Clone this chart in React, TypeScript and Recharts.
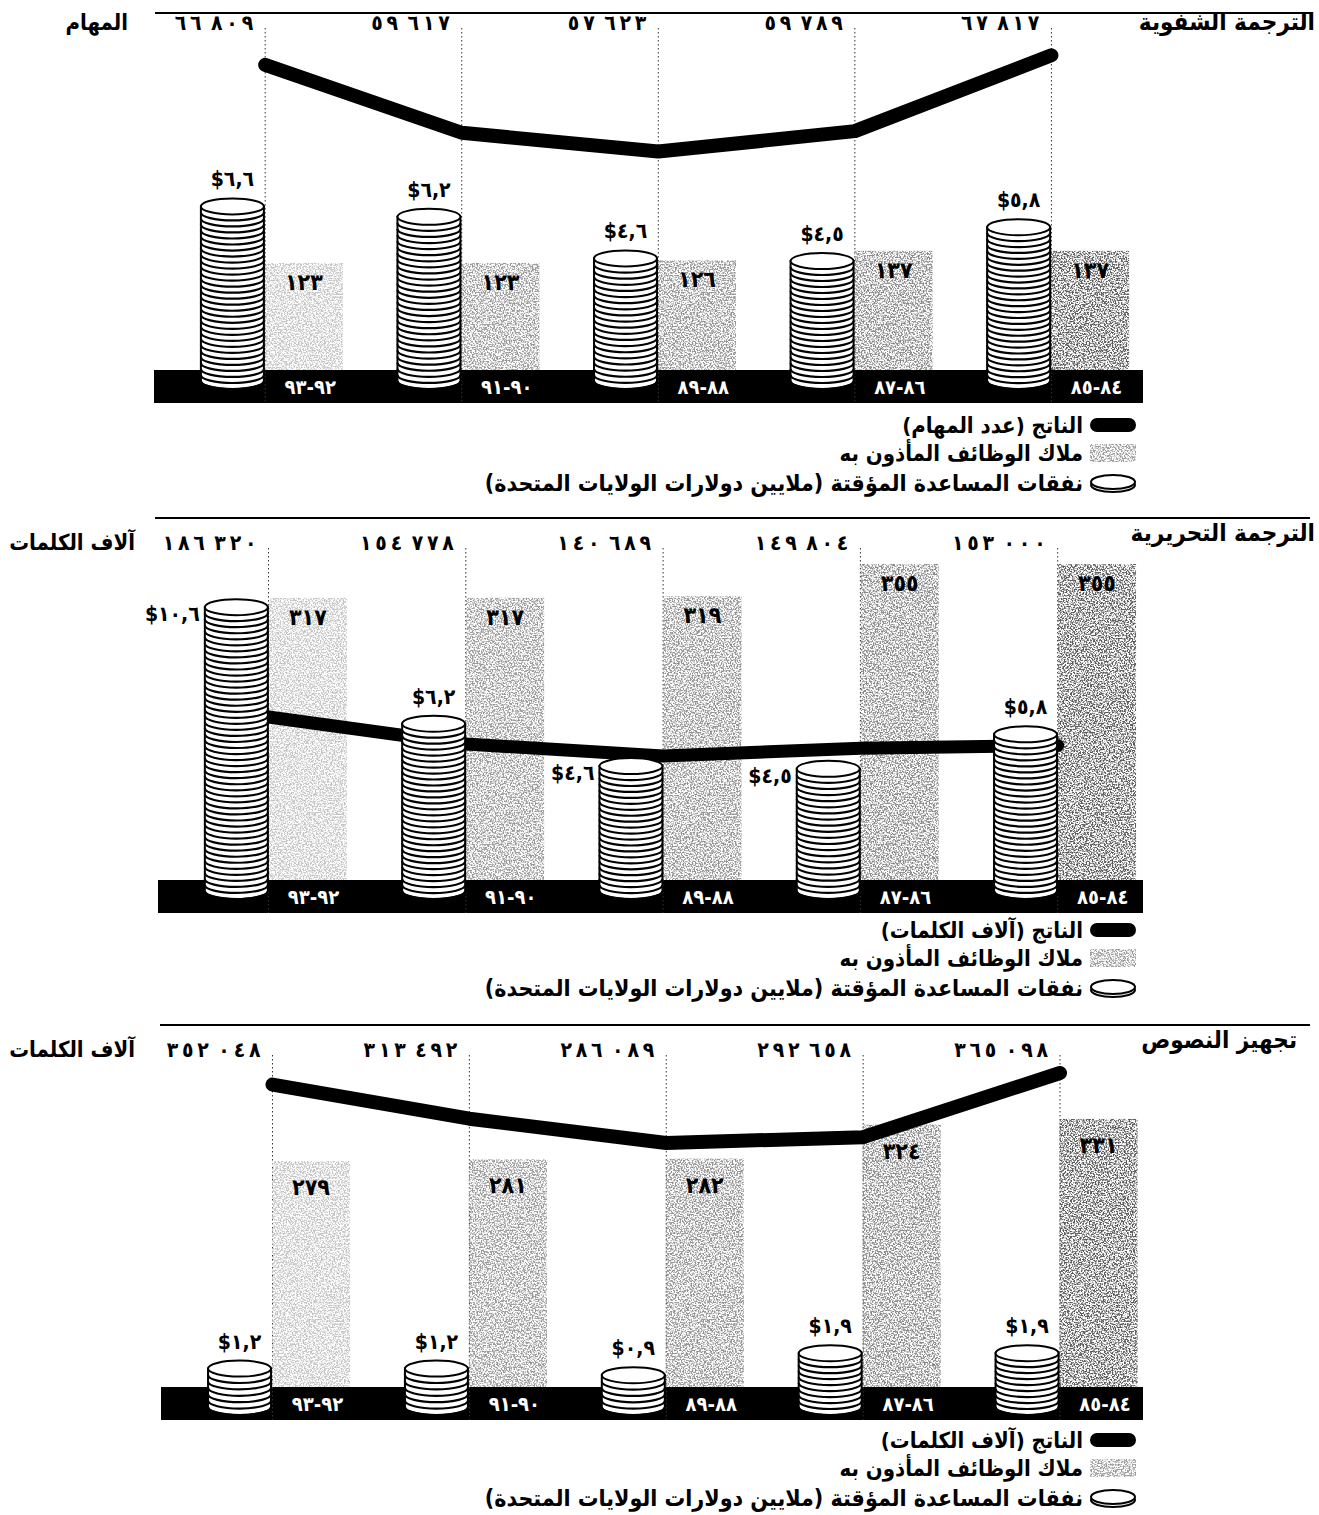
import React from 'react';
import {
  ComposedChart, Bar, Line, XAxis, YAxis, CartesianGrid, LabelList, Cell,
} from 'recharts';

const FONT = "'DejaVu Sans Condensed', 'DejaVu Sans', sans-serif";

// fiscal periods, oldest on the right
const periods = ['٩٢-٩٣', '٩٠-٩١', '٨٨-٨٩', '٨٦-٨٧', '٨٤-٨٥'];

// interpretation: output in meetings
const oralOutput = [66809, 59617, 57623, 59789, 67817];
const oralStaff = [123, 123, 126, 137, 137];
const oralCost = [6.6, 6.2, 4.6, 4.5, 5.8];

// translation: output in thousands of words
const writtenOutput = [186320, 154778, 140689, 149804, 153000];
const writtenStaff = [317, 317, 319, 355, 355];
const writtenCost = [10.6, 6.2, 4.6, 4.5, 5.8];

// text processing: output in thousands of words
const textOutput = [352048, 313492, 286089, 292658, 365098];
const textStaff = [279, 281, 282, 324, 331];
const textCost = [1.2, 1.2, 0.9, 1.9, 1.9];

const legendStaff = 'ملاك الوظائف المأذون به';
const legendCost = 'نفقات المساعدة المؤقتة (ملايين دولارات الولايات المتحدة)';

// staffing bars get darker towards the older periods
const staffShades = ['#c4c4c4', '#9a9a9a', '#949494', '#8a8a8a', '#5c5c5c'];

type Side = 'top' | 'left';

interface PanelCfg {
  key: string;
  title: string;
  unit: string;
  outputLegend: string;
  output: number[];
  staff: number[];
  cost: number[];
  costLabelSide: Side[];
  top: number;
  plotBottom: number;
  plotLeft: number;
  padL: number;
  padR: number;
  outDomain: [number, number];
  staffDomain: [number, number];
  costDomain: [number, number];
  staffLabelDy: number;
  coinExt: number;
  lineWidth: number;
  ruleY: number;
  ruleLeft: number;
  titleY: number;
  titleRight: number;
  unitRight: number;
  legendY: number;
}

const PLOT_RIGHT = 1143;
const TOP_AXIS = 28;
const BOTTOM_AXIS = 20;
const BAND_H = 33;
const HALF = 39;
const COIN_W = 63;

const panels: PanelCfg[] = [
  {
    key: 'oral', title: 'الترجمة الشفوية', unit: 'المهام', outputLegend: 'الناتج (عدد المهام)',
    output: oralOutput, staff: oralStaff, cost: oralCost,
    costLabelSide: ['top', 'top', 'top', 'top', 'top'],
    top: 0, plotBottom: 403, plotLeft: 154, padL: 12.9, padR: -6.7,
    outDomain: [31000, 70710], staffDomain: [-37.9, 393.1], costDomain: [-1.269, 13.154],
    staffLabelDy: 19, coinExt: 19, lineWidth: 14,
    ruleY: 13, ruleLeft: 155, titleY: 22, titleRight: 1315, unitRight: 128, legendY: 425,
  },
  {
    key: 'written', title: 'الترجمة التحريرية', unit: 'آلاف الكلمات', outputLegend: 'الناتج (آلاف الكلمات)',
    output: writtenOutput, staff: writtenStaff, cost: writtenCost,
    costLabelSide: ['left', 'top', 'left', 'left', 'top'],
    top: 520, plotBottom: 393, plotLeft: 158, padL: 11.85, padR: -13.35,
    outDomain: [-42940, 383960], staffDomain: [-37.08, 373.0], costDomain: [-1.245, 12.53],
    staffLabelDy: 19, coinExt: 19, lineWidth: 13,
    ruleY: 518, ruleLeft: 155, titleY: 533, titleRight: 1315, unitRight: 135, legendY: 930,
  },
  {
    key: 'text', title: 'تجهيز النصوص', unit: 'آلاف الكلمات', outputLegend: 'الناتج (آلاف الكلمات)',
    output: textOutput, staff: textStaff, cost: textCost,
    costLabelSide: ['top', 'top', 'top', 'top', 'top'],
    top: 1027, plotBottom: 393, plotLeft: 161, padL: 13.05, padR: -15.45,
    outDomain: [-26550, 385410], staffDomain: [-40.74, 409.9], costDomain: [-1.5, 15.09],
    staffLabelDy: 26, coinExt: 28, lineWidth: 14,
    ruleY: 1025, ruleLeft: 160, titleY: 1040, titleRight: 1297, unitRight: 135, legendY: 1440,
  },
];

const toArabic = (s: string) => s.replace(/[0-9]/g, (d) => '٠١٢٣٤٥٦٧٨٩'[Number(d)]);
// left-to-right override keeps the two digit groups in reading order,
// so the figures can be spaced out freely
const spread = (s: string) => s.split('').join('\u2009');
const fmtOutput = (v: number) => {
  const s = String(v);
  return `\u202D${toArabic(`${spread(s.slice(0, -3))}\u2002${spread(s.slice(-3))}`)}\u202C`;
};
const fmtCost = (v: number) => `$${toArabic(v.toFixed(1).replace('.', ','))}`;
const rtl = (s: string) => `\u200F${s}\u200F`;

const boxOf = (p: any) => p.viewBox ?? p;

function StaffBar(props: any) {
  const { x, y, width, height, fill } = props;
  if (x == null || !height || height <= 0) return null;
  return <rect x={x} y={y} width={width} height={height} fill={fill} filter="url(#grain)" />;
}

function CoinStack(props: any) {
  const { x, y, width, height, ext } = props;
  if (x == null || height == null || height <= 0) return null;
  const rx = COIN_W / 2;
  const ry = 8;
  const right = x + width - 1;
  const left = right - COIN_W;
  const top = y + ry;
  const bottom = y + height + ext - ry;
  const n = Math.max(1, Math.round((bottom - top) / 6));
  const step = (bottom - top) / n;
  const rings: number[] = [];
  for (let k = 1; k <= n; k++) rings.push(top + k * step);
  const body = `M${left},${top} L${left},${bottom} A${rx},${ry} 0 0 0 ${right},${bottom} L${right},${top} Z`;
  return (
    <g>
      <path d={body} fill="#fff" stroke="#000" strokeWidth={2} />
      {rings.map((yy) => (
        <path key={yy} d={`M${left},${yy} A${rx},${ry} 0 0 0 ${right},${yy}`} fill="none" stroke="#000" strokeWidth={2.2} />
      ))}
      <ellipse cx={left + rx} cy={top} rx={rx} ry={ry} fill="#fff" stroke="#000" strokeWidth={2} />
    </g>
  );
}

function makeStaffLabel(dy: number) {
  return function StaffLabel(props: any) {
    const { x, y, width } = boxOf(props);
    if (x == null) return null;
    return (
      <text x={x + width / 2} y={y + dy} textAnchor="middle" dominantBaseline="central"
        fontFamily={FONT} fontWeight="bold" fontSize={23} fill="#000">
        {toArabic(String(props.value))}
      </text>
    );
  };
}

function makeCostLabel(sides: Side[]) {
  return function CostLabel(props: any) {
    const { x, y, width } = boxOf(props);
    if (x == null) return null;
    const right = x + width - 1;
    const left = right - COIN_W;
    const side = sides[props.index] ?? 'top';
    const common = {
      fontFamily: FONT, fontWeight: 'bold' as const, fontSize: 21,
      fill: '#000', dominantBaseline: 'central' as const,
    };
    if (side === 'left') {
      return <text x={left - 5} y={y + 15} textAnchor="end" {...common}>{fmtCost(props.value)}</text>;
    }
    return <text x={left + COIN_W / 2} y={y - 19} textAnchor="middle" {...common}>{fmtCost(props.value)}</text>;
  };
}

function Panel({ cfg }: { cfg: PanelCfg }) {
  const data = periods.map((period, i) => ({
    period, output: cfg.output[i], staff: cfg.staff[i], cost: cfg.cost[i],
  }));
  const bandY = cfg.plotBottom - BAND_H / 2;
  const CostLabel = makeCostLabel(cfg.costLabelSide);
  const StaffLabel = makeStaffLabel(cfg.staffLabelDy);

  const PeriodTick = (p: any) => (
    <text x={p.x + HALF + 6} y={bandY} textAnchor="middle" dominantBaseline="central"
      fontFamily={FONT} fontWeight="bold" fontSize={20} fill="#fff">
      {p.payload.value}
    </text>
  );
  const OutputTick = (p: any) => {
    const i = periods.indexOf(p.payload.value);
    return (
      <text x={p.x - 12} y={22.5} textAnchor="end" dominantBaseline="central"
        fontFamily={FONT} fontWeight="bold" fontSize={21} fill="#000">
        {fmtOutput(cfg.output[i])}
      </text>
    );
  };

  return (
    <div style={{ position: 'absolute', left: 0, top: cfg.top }}>
      <ComposedChart
        width={1319}
        height={cfg.plotBottom + BOTTOM_AXIS}
        data={data}
        barGap={0}
        margin={{ top: 0, right: 1319 - PLOT_RIGHT, bottom: 0, left: cfg.plotLeft }}
      >
        <CartesianGrid horizontal={false} syncWithTicks stroke="#333" strokeDasharray="1.5 2.5" />
        <Bar xAxisId="staffX" yAxisId="staff" dataKey="staff" barSize={78} shape={StaffBar}
          isAnimationActive={false} zIndex={300}>
          {data.map((d, i) => <Cell key={d.period} fill={staffShades[i]} />)}
          <LabelList dataKey="staff" content={StaffLabel} />
        </Bar>
        <Line yAxisId="out" dataKey="output" type="linear" stroke="#000" strokeWidth={cfg.lineWidth}
          strokeLinecap="round" strokeLinejoin="round" dot={false} activeDot={false}
          isAnimationActive={false} zIndex={400} />
        <Bar xAxisId="coinX" yAxisId="cost" dataKey="cost" barSize={78}
          shape={(p: any) => <CoinStack {...p} ext={cfg.coinExt} />}
          isAnimationActive={false} zIndex={450}>
          <LabelList dataKey="cost" content={CostLabel} />
        </Bar>
        <XAxis dataKey="period" height={BOTTOM_AXIS} interval={0} axisLine={false} tickLine={false}
          padding={{ left: cfg.padL, right: cfg.padR }} tick={PeriodTick} />
        <XAxis xAxisId="top" orientation="top" dataKey="period" height={TOP_AXIS} interval={0}
          axisLine={false} tickLine={false} padding={{ left: cfg.padL, right: cfg.padR }} tick={OutputTick} />
        <XAxis xAxisId="coinX" dataKey="period" hide padding={{ left: cfg.padL - HALF, right: cfg.padR + HALF }} />
        <XAxis xAxisId="staffX" dataKey="period" hide padding={{ left: cfg.padL + HALF, right: cfg.padR - HALF }} />
        <YAxis yAxisId="staff" hide type="number" scale="linear" domain={cfg.staffDomain} allowDataOverflow />
        <YAxis yAxisId="cost" hide type="number" scale="linear" domain={cfg.costDomain} allowDataOverflow />
        <YAxis yAxisId="out" hide type="number" scale="linear" domain={cfg.outDomain} allowDataOverflow />
      </ComposedChart>
    </div>
  );
}

// rules, titles, the black period plate and the legends sit underneath the charts
function Decorations() {
  const txt = { fontFamily: FONT, fontWeight: 'bold' as const, fill: '#000', dominantBaseline: 'central' as const };
  return (
    <svg width={1319} height={1515} style={{ position: 'absolute', left: 0, top: 0 }}>
      <defs>
        <filter id="grain" x="0" y="0" width="1" height="1">
          <feTurbulence type="fractalNoise" baseFrequency="0.65" numOctaves="2" seed="7" result="noise" />
          <feColorMatrix in="noise" type="matrix"
            values="0 0 0 0 0  0 0 0 0 0  0 0 0 0 0  5 0 0 0 -2.1" result="mask" />
          <feComposite in="SourceGraphic" in2="mask" operator="in" />
        </filter>
      </defs>
      {panels.map((p) => {
        const ly = p.legendY;
        const bandTop = p.top + p.plotBottom - BAND_H;
        return (
          <g key={p.key}>
            <line x1={p.ruleLeft} x2={1310} y1={p.ruleY} y2={p.ruleY} stroke="#000" strokeWidth={2} />
            <rect x={p.plotLeft} y={bandTop} width={PLOT_RIGHT - p.plotLeft} height={BAND_H} fill="#000" />
            <text x={p.titleRight} y={p.titleY} textAnchor="end" fontSize={24} {...txt}>{p.title}</text>
            <text x={p.unitRight} y={p.top + 22.5} textAnchor="end" fontSize={22} {...txt}>{p.unit}</text>

            <rect x={1090} y={ly - 7} width={46} height={14} rx={7} fill="#000" />
            <text x={1083} y={ly} textAnchor="end" fontSize={22} {...txt}>{rtl(p.outputLegend)}</text>

            <rect x={1090} y={ly + 19} width={46} height={18} fill="#9a9a9a" filter="url(#grain)" />
            <text x={1083} y={ly + 28} textAnchor="end" fontSize={22} {...txt}>{rtl(legendStaff)}</text>

            <ellipse cx={1113} cy={ly + 60} rx={22} ry={7} fill="#fff" stroke="#000" strokeWidth={2} />
            <ellipse cx={1113} cy={ly + 57} rx={22} ry={7} fill="#fff" stroke="#000" strokeWidth={2} />
            <text x={1083} y={ly + 58} textAnchor="end" fontSize={23} {...txt}>{rtl(legendCost)}</text>
          </g>
        );
      })}
    </svg>
  );
}

export default function App() {
  return (
    <div style={{ position: 'absolute', left: 0, top: 0, width: 1319, height: 1515, background: '#fff' }}>
      <Decorations />
      {panels.map((p) => <Panel key={p.key} cfg={p} />)}
    </div>
  );
}
